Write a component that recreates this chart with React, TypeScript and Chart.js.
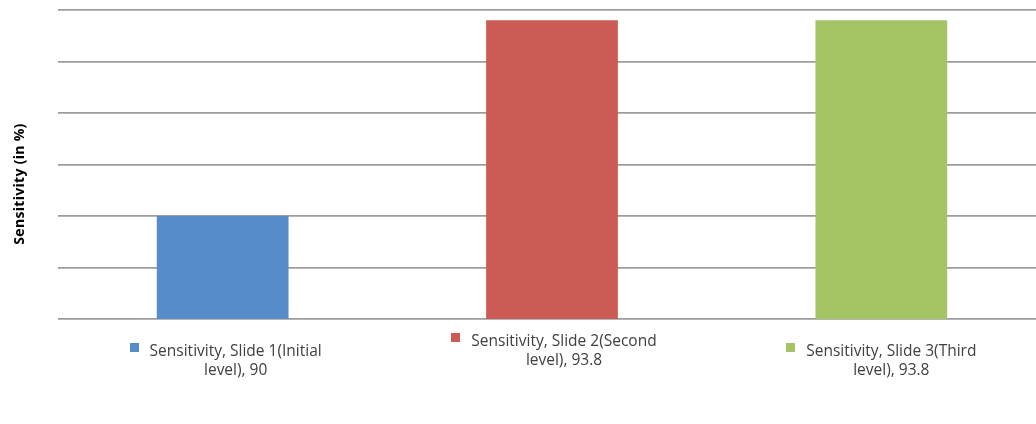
import React, { useEffect, useRef } from "react";
import { Chart, registerables } from "chart.js";

Chart.register(...registerables);

const seriesName = "Sensitivity";
const categories = ["Slide 1(Initial level)", "Slide 2(Second level)", "Slide 3(Third level)"];
const values = [90, 93.8, 93.8];
const barColors = ["#578BC9", "#CC5B55", "#A5C466"];
const yMin = 88;
const yMax = 94;
const yStep = 1;
const yTitle = "Sensitivity (in %)";

// layout of data labels (visual offsets, not data)
const labelBaseY = [356, 346, 356];
const labelShiftX = [13, 12, 10];

function wrap(ctx: CanvasRenderingContext2D, text: string, maxW: number): string[] {
  const words = text.split(" ");
  const lines: string[] = [];
  let cur = "";
  for (const w of words) {
    const t = cur ? cur + " " + w : w;
    if (ctx.measureText(t).width > maxW && cur) {
      lines.push(cur);
      cur = w;
    } else cur = t;
  }
  if (cur) lines.push(cur);
  return lines;
}

const labelPlugin = {
  id: "excelLabels",
  afterDraw(chart: any) {
    const ctx: CanvasRenderingContext2D = chart.ctx;
    const xs = chart.scales.x;
    ctx.save();
    ctx.font = '15.5px "Open Sans"';
    ctx.textAlign = "center";
    ctx.textBaseline = "alphabetic";
    categories.forEach((cat, i) => {
      const text = `${seriesName}, ${cat}, ${values[i]}`;
      const lines = wrap(ctx, text, 205);
      const cx = xs.getPixelForValue(i) + labelShiftX[i];
      const y0 = labelBaseY[i];
      const w0 = ctx.measureText(lines[0]).width;
      ctx.fillStyle = barColors[i];
      ctx.fillRect(Math.round(cx - w0 / 2 - 20), y0 - 13, 9, 9);
      ctx.fillStyle = "#404040";
      lines.forEach((ln, k) => ctx.fillText(ln, cx, y0 + k * 19));
    });
    // y axis title
    ctx.save();
    ctx.translate(20, 184);
    ctx.rotate(-Math.PI / 2);
    ctx.font = 'bold 14px "Open Sans"';
    (ctx as any).letterSpacing = "0.3px";
    ctx.textBaseline = "middle";
    ctx.fillStyle = "#000000";
    ctx.fillText(yTitle, 0, 0);
    ctx.restore();
    ctx.restore();
  },
};

export default function App() {
  const ref = useRef<HTMLCanvasElement>(null);
  useEffect(() => {
    if (!ref.current) return;
    const chart = new Chart(ref.current, {
      type: "bar",
      data: {
        labels: categories,
        datasets: [
          {
            label: seriesName,
            data: values,
            backgroundColor: barColors,
            borderWidth: 0,
            categoryPercentage: 1,
            barPercentage: 0.4,
          },
        ],
      },
      options: {
        animation: false,
        responsive: false,
        maintainAspectRatio: false,
        layout: { padding: { top: 10, bottom: 105, left: 0, right: 0 } },
        plugins: { legend: { display: false }, tooltip: { enabled: false } },
        scales: {
          x: { display: false },
          y: {
            min: yMin,
            max: yMax,
            ticks: { stepSize: yStep, display: false },
            grid: { color: "#9c9c9c", lineWidth: 1.8, drawTicks: false },
            border: { display: false },
            afterFit: (s: any) => {
              s.width = 58;
            },
          },
        },
      },
      plugins: [labelPlugin],
    });
    return () => chart.destroy();
  }, []);
  return (
    <div style={{ position: "fixed", left: 0, top: 0, width: 1036, height: 424, overflow: "hidden", background: "#fff" }}>
      <canvas ref={ref} width={1046} height={424} style={{ display: "block", width: 1046, height: 424 }} />
    </div>
  );
}
